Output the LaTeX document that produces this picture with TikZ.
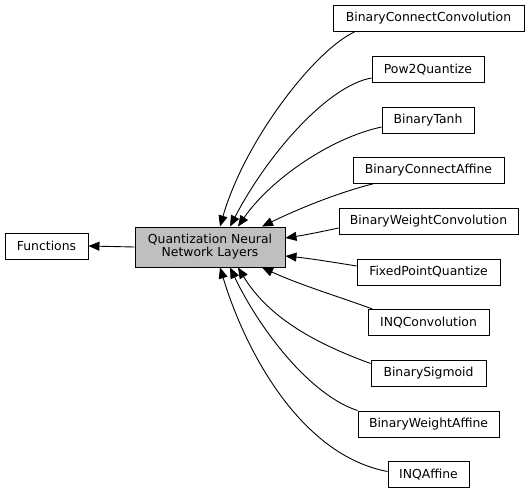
\documentclass[tikz,border=0pt]{standalone}
\usepackage{fontspec}
\setmainfont{DejaVu Sans}
\usetikzlibrary{arrows.meta}
\begin{document}
\begin{tikzpicture}[x=1bp,y=-1bp,
  box/.style={draw=black,line width=0.9bp,fill=white,inner sep=0pt,minimum height=26bp,
    font=\fontsize{12.4bp}{13bp}\selectfont},
  edge/.style={draw=black,line width=0.9bp,-{Triangle[length=11bp,width=9bp]}}]
\useasboundingbox (0,0) rectangle (529,493);
\node[box,minimum width=83bp] (fn) at (46.5,246) {Functions};
\node[box,fill={rgb,255:red,191;green,191;blue,191},minimum width=150bp,minimum height=40bp,align=center] (main) at (210,247) {Quantization Neural\\Network Layers};
\node[box,minimum width=191bp] (bcc) at (428.5,18.5) {BinaryConnectConvolution};
\node[box,minimum width=112bp] (p2q) at (428,69.5) {Pow2Quantize};
\node[box,minimum width=92bp] (bt) at (428,120) {BinaryTanh};
\node[box,minimum width=151bp] (bca) at (428.5,170) {BinaryConnectAffine};
\node[box,minimum width=179bp] (bwc) at (428.5,221) {BinaryWeightConvolution};
\node[box,minimum width=143bp] (fpq) at (428.5,272) {FixedPointQuantize};
\node[box,minimum width=121bp] (inqc) at (428.5,322.5) {INQConvolution};
\node[box,minimum width=115bp] (bs) at (428.5,373.5) {BinarySigmoid};
\node[box,minimum width=141bp] (bwa) at (428.5,424) {BinaryWeightAffine};
\node[box,minimum width=81bp] (inqa) at (428.5,474.5) {INQAffine};
\draw[edge] (main.west) -- (fn.east);
\draw[edge] ([xshift=22bp]bcc.south west) .. controls (315,50) and (245,140) .. ([xshift=10bp]main.north);
\draw[edge] ([yshift=-8.5bp]p2q.west) .. controls (330,85) and (270,150) .. ([xshift=20bp]main.north);
\draw[edge] ([yshift=-7bp]bt.west) .. controls (330,138) and (270,180) .. ([xshift=28bp]main.north);
\draw[edge] ([xshift=22bp]bca.south west) .. controls (340,192) and (300,208) .. ([xshift=52bp]main.north);
\draw[edge] ([yshift=-7bp]bwc.west) .. controls (320,232) and (305,235) .. ([yshift=9bp]main.east);
\draw[edge] ([yshift=6bp]fpq.west) .. controls (320,260) and (305,258) .. ([yshift=-9bp]main.east);
\draw[edge] ([xshift=5bp]inqc.north west) .. controls (340,297) and (300,285) .. ([xshift=52bp]main.south);
\draw[edge] ([yshift=10bp]bs.west) .. controls (320,345) and (270,320) .. ([xshift=28bp]main.south);
\draw[edge] (bwa.north west) .. controls (310,395) and (260,330) .. ([xshift=20bp]main.south);
\draw[edge] ([yshift=3bp]inqa.west) .. controls (300,455) and (245,350) .. ([xshift=10bp]main.south);
\end{tikzpicture}
\end{document}
